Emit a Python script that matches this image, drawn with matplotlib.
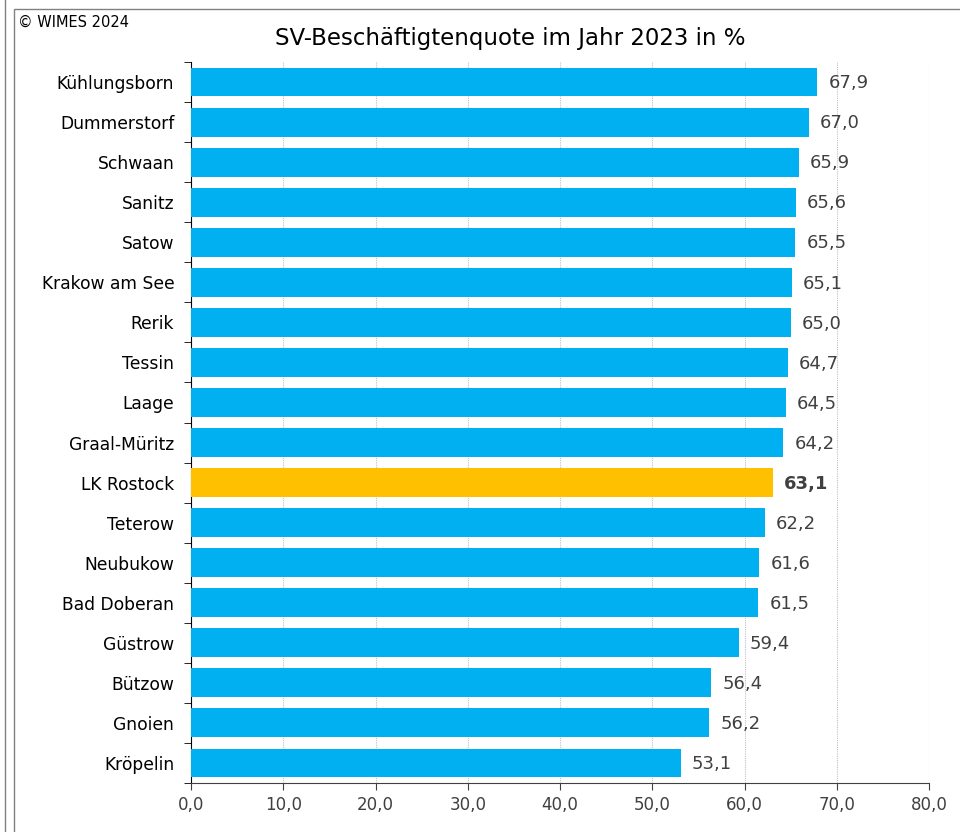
import numpy as np
import matplotlib
matplotlib.use("Agg")
from matplotlib import pyplot as plt
from matplotlib.patches import Rectangle
from matplotlib.ticker import FixedLocator, FuncFormatter

# data, top to bottom as shown
gemeinden = ["Kühlungsborn", "Dummerstorf", "Schwaan", "Sanitz", "Satow",
             "Krakow am See", "Rerik", "Tessin", "Laage", "Graal-Müritz",
             "LK Rostock", "Teterow", "Neubukow", "Bad Doberan", "Güstrow",
             "Bützow", "Gnoien", "Kröpelin"]
quote = [67.9, 67.0, 65.9, 65.6, 65.5, 65.1, 65.0, 64.7, 64.5, 64.2,
         63.1, 62.2, 61.6, 61.5, 59.4, 56.4, 56.2, 53.1]
highlight = "LK Rostock"
x_ticks = [0, 10, 20, 30, 40, 50, 60, 70, 80]

BLUE = "#00B0F0"
ORANGE = "#FFC000"
TXT = "#404040"

plt.rcParams['font.family'] = ['DejaVu Sans']

W, H = 960, 832
fig = plt.figure(figsize=(W / 100, H / 100), dpi=100)
ax = fig.add_axes([191 / W, 1 - 783 / H, (929 - 191) / W, (783 - 62) / H])

n = len(gemeinden)
y = np.arange(n)
colors = [ORANGE if g == highlight else BLUE for g in gemeinden]
ax.barh(y, quote, height=0.72, color=colors, zorder=3)

for yi, v, g in zip(y, quote, gemeinden):
    ax.text(v + 1.2, yi + 0.03, f"{v:.1f}".replace(".", ","), va="center", ha="left",
            fontsize=13, color=TXT, fontweight="bold" if g == highlight else "normal")

ax.set_xlim(0, 80)
ax.set_ylim(n - 0.5, -0.5)
ax.xaxis.set_major_locator(FixedLocator(x_ticks))
ax.xaxis.set_major_formatter(FuncFormatter(lambda v, p: f"{v:.1f}".replace(".", ",")))
ax.set_yticks(y)
ax.set_yticklabels(gemeinden)
ax.yaxis.set_minor_locator(FixedLocator(np.arange(-0.5, n, 1.0)))
ax.tick_params(axis="y", which="major", length=0, pad=12, labelsize=12.3, labelcolor="black")
ax.tick_params(axis="y", which="minor", length=5, direction="out", color="black")
ax.tick_params(axis="x", length=5, direction="out", color=TXT, labelsize=12,
               labelcolor=TXT, pad=4)
ax.grid(axis="x", color="#c0c0c0", linestyle=(0, (1, 1)), linewidth=0.8, zorder=0)
for s in ["top", "right"]:
    ax.spines[s].set_visible(False)
ax.spines["left"].set_color("black")
ax.spines["bottom"].set_color(TXT)

# frame like the original
fig.patches.append(Rectangle((14 / W, -0.01), 1.0, 1 - 9 / H + 0.01, transform=fig.transFigure,
                             fill=False, edgecolor="#808080", linewidth=1.0))
fig.lines.append(plt.Line2D([4.5 / W, 4.5 / W], [0, 1], transform=fig.transFigure,
                            color="#808080", linewidth=1.0))

fig.text(18 / W, 1 - 22 / H, "© WIMES 2024", fontsize=10.5, va="center", ha="left")
fig.text(510 / W, 1 - 38 / H, "SV-Beschäftigtenquote im Jahr 2023 in %", fontsize=16.5,
         va="center", ha="center")

fig.savefig("out.png", dpi=100)
